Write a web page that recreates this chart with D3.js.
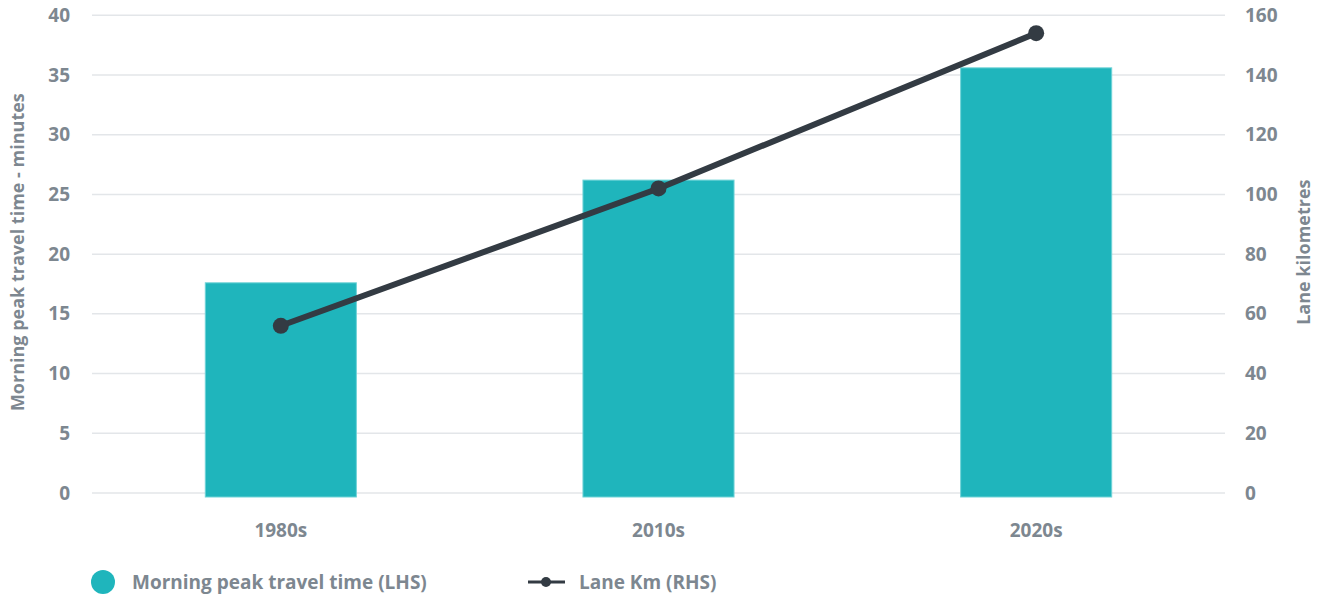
<!DOCTYPE html>
<html>
<head>
<meta charset="utf-8">
<script src="https://cdn.jsdelivr.net/npm/d3@7"></script>
<style>
  html, body { margin: 0; padding: 0; background: #ffffff; }
  svg { display: block; }
  text { font-family: "Open Sans", "Noto Sans", sans-serif; font-weight: 700; fill: #7d8790; }
</style>
</head>
<body>
<svg id="chart" width="1322" height="594"></svg>
<script>
// Data
const categories = ["1980s", "2010s", "2020s"];
const travelTime = [17.6, 26.2, 35.6];     // minutes (left axis)
const laneKm = [56, 102, 154];             // lane kilometres (right axis)
const leftTicks = [0, 5, 10, 15, 20, 25, 30, 35, 40];
const rightTicks = [0, 20, 40, 60, 80, 100, 120, 140, 160];
const seriesNames = ["Morning peak travel time (LHS)", "Lane Km (RHS)"];
const axisTitles = ["Morning peak travel time - minutes", "Lane kilometres"];

const barColor = "#1fb5bc";
const lineColor = "#333b43";
const gridColor = "#e3e6e9";
const FS = 19;        // tick and legend labels
const TITLE_FS = 18;  // axis titles

const svg = d3.select("#chart");
const plot = { left: 92, right: 1225, top: 15.3, bottom: 493 };

const x = d3.scaleBand()
  .domain(categories)
  .range([plot.left, plot.right])
  .paddingInner(0.6)
  .paddingOuter(0.3);

const yL = d3.scaleLinear().domain([0, 40]).range([plot.bottom, plot.top]);
const yR = d3.scaleLinear().domain([0, 160]).range([plot.bottom, plot.top]);

// Gridlines
svg.append("g")
  .selectAll("line")
  .data(leftTicks)
  .join("line")
  .attr("x1", plot.left)
  .attr("x2", plot.right)
  .attr("y1", d => yL(d))
  .attr("y2", d => yL(d))
  .attr("stroke", gridColor)
  .attr("stroke-width", 1.5);

function styleAxisText(g) {
  g.select(".domain").remove();
  g.attr("font-family", null).attr("font-size", null);
  g.selectAll("text").attr("font-size", FS).attr("fill", "#7d8790");
}

// Left axis labels
svg.append("g")
  .attr("transform", `translate(70,0)`)
  .call(d3.axisLeft(yL).tickValues(leftTicks).tickSize(0).tickPadding(0))
  .call(styleAxisText);

// Right axis labels
svg.append("g")
  .attr("transform", `translate(1245,0)`)
  .call(d3.axisRight(yR).tickValues(rightTicks).tickSize(0).tickPadding(0))
  .call(styleAxisText);

// Bars
svg.append("g")
  .selectAll("rect")
  .data(categories)
  .join("rect")
  .attr("x", d => x(d))
  .attr("width", x.bandwidth())
  .attr("y", (d, i) => yL(travelTime[i]))
  .attr("height", (d, i) => yL(0) - yL(travelTime[i]) + 4)
  .attr("fill", barColor)
  .attr("stroke", "#6fd3d7")
  .attr("stroke-width", 1);

// Category labels
svg.append("g")
  .attr("transform", `translate(0,${plot.bottom})`)
  .call(d3.axisBottom(x).tickSize(0).tickPadding(0))
  .call(styleAxisText)
  .call(g => g.selectAll("text").attr("y", 44).attr("dy", 0));

// Line series
const cx = d => x(d) + x.bandwidth() / 2;
const line = d3.line()
  .x((d, i) => cx(categories[i]))
  .y(d => yR(d));

svg.append("path")
  .datum(laneKm)
  .attr("d", line)
  .attr("fill", "none")
  .attr("stroke", lineColor)
  .attr("stroke-width", 6)
  .attr("stroke-linejoin", "round");

svg.append("g")
  .selectAll("circle")
  .data(laneKm)
  .join("circle")
  .attr("cx", (d, i) => cx(categories[i]))
  .attr("cy", d => yR(d))
  .attr("r", 8)
  .attr("fill", lineColor);

// Axis titles
svg.append("text")
  .attr("transform", `translate(24,${(plot.top + plot.bottom) / 2 - 2}) rotate(-90)`)
  .attr("text-anchor", "middle")
  .attr("font-size", TITLE_FS)
  .text(axisTitles[0]);

svg.append("text")
  .attr("transform", `translate(1310,${(plot.top + plot.bottom) / 2 - 2}) rotate(-90)`)
  .attr("text-anchor", "middle")
  .attr("font-size", TITLE_FS)
  .text(axisTitles[1]);

// Legend
const legend = svg.append("g");
legend.append("circle")
  .attr("cx", 103).attr("cy", 582).attr("r", 12)
  .attr("fill", barColor);
legend.append("text")
  .attr("x", 132).attr("y", 588.5)
  .attr("font-size", FS)
  .text(seriesNames[0]);

legend.append("line")
  .attr("x1", 528).attr("x2", 565)
  .attr("y1", 582).attr("y2", 582)
  .attr("stroke", lineColor).attr("stroke-width", 3);
legend.append("circle")
  .attr("cx", 546).attr("cy", 582).attr("r", 5)
  .attr("fill", lineColor);
legend.append("text")
  .attr("x", 579).attr("y", 588.5)
  .attr("font-size", FS)
  .text(seriesNames[1]);
</script>
</body>
</html>
